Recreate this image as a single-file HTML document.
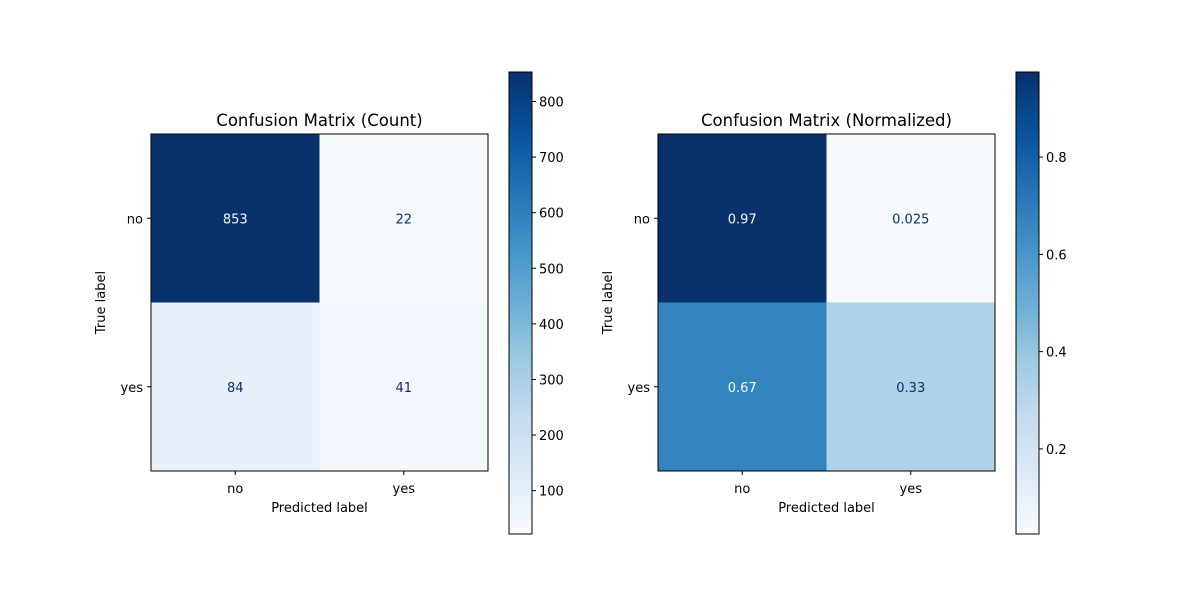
<!DOCTYPE html>
<html><head><meta charset="utf-8"><style>
body{margin:0;background:#fff;}
svg{font-family:"DejaVu Sans","Liberation Sans",sans-serif;}
</style></head><body>
<svg id="chart" width="1200" height="600" xmlns="http://www.w3.org/2000/svg">
<rect width="1200" height="600" fill="#fff"/>
</svg>
<script>
const classLabels = ["no","yes"];
const countValues = [[853,22],[84,41]];
const normValues = [[0.9749,0.0251],[0.672,0.328]];
const normText = [["0.97","0.025"],["0.67","0.33"]];
const countTicks = [100,200,300,400,500,600,700,800];
const normTicks = [0.2,0.4,0.6,0.8];
const titles = ["Confusion Matrix (Count)","Confusion Matrix (Normalized)"];

const blues = ["#f7fbff","#deebf7","#c6dbef","#9ecae1","#6baed6","#4292c6","#2171b5","#08519c","#08306b"];
function hex(c){return [1,3,5].map(i=>parseInt(c.substr(i,2),16));}
function cmap(t){t=Math.max(0,Math.min(1,t));const p=t*8,i=Math.min(7,Math.floor(p)),f=p-i;
 const a=hex(blues[i]),b=hex(blues[i+1]);return "rgb("+a.map((v,k)=>Math.round(v+(b[k]-v)*f)).join(",")+")";}
const NS="http://www.w3.org/2000/svg";
const svg=document.getElementById("chart");
function el(tag,attrs,parent){const e=document.createElementNS(NS,tag);for(const k in attrs)e.setAttribute(k,attrs[k]);(parent||svg).appendChild(e);return e;}
function txt(s,attrs){const e=el("text",Object.assign({"font-size":"13",fill:"#000"},attrs));e.textContent=s;return e;}

const defs=el("defs",{});
const grad=el("linearGradient",{id:"bl",x1:"0",y1:"1",x2:"0",y2:"0"},defs);
blues.forEach((c,i)=>el("stop",{offset:(i/8),"stop-color":c},grad));

function panel(x0,values,labels,ticks,tickFmt,title){
 const y0=134,S=337,cell=S/2;
 const flat=values.flat(),mn=Math.min(...flat),mx=Math.max(...flat);
 const norm=v=>(v-mn)/(mx-mn);
 const g=el("g",{});
 
 
 for(let r=0;r<2;r++)for(let c=0;c<2;c++){
  const v=values[r][c];
  const rc=el("rect",{x:x0+c*cell,y:y0+r*cell,width:cell,height:cell,fill:cmap(norm(v))},g);
  
  
  const t=txt(labels[r][c],{x:x0+c*cell+cell/2,y:y0+r*cell+cell/2+5,"text-anchor":"middle",fill:norm(v)>0.5?"#f7fbff":"#08306b"});
  
  
 }
 el("rect",{x:x0,y:y0,width:S,height:S,fill:"none",stroke:"#000","stroke-width":1});
 classLabels.forEach((l,i)=>{
  const cx=x0+i*cell+cell/2, cy=y0+i*cell+cell/2;
  el("line",{x1:cx,x2:cx,y1:y0+S,y2:y0+S+4,stroke:"#000"});
  const a=txt(l,{x:cx,y:y0+S+22,"text-anchor":"middle"});
  
  
  el("line",{x1:x0-4,x2:x0,y1:cy,y2:cy,stroke:"#000"});
  const b=txt(l,{x:x0-8,y:cy+5,"text-anchor":"end"});
  
  
 });
 const tt=txt(title,{x:x0+S/2,y:y0-8,"text-anchor":"middle","font-size":"16.5"});
 
 
 const xl=txt("Predicted label",{x:x0+S/2,y:y0+S+41,"text-anchor":"middle"});
 
 
 const yl=txt("True label",{x:0,y:0,"text-anchor":"middle",transform:"translate("+(x0-46)+","+(y0+S/2)+") rotate(-90)"});
 
 
 const cx0=x0+358,cy0=72,cw=23,ch=462;
 const cb=el("rect",{x:cx0,y:cy0,width:cw,height:ch,fill:"url(#bl)",stroke:"#000","stroke-width":1});
 
 
 ticks.forEach(t=>{
  const y=cy0+ch-norm(t)*ch;
  el("line",{x1:cx0+cw,x2:cx0+cw+4,y1:y,y2:y,stroke:"#000"});
  const l=txt(tickFmt(t),{x:cx0+cw+7,y:y+5});
  
  
 });
}
panel(151,countValues,countValues.map(r=>r.map(String)),countTicks,String,titles[0]);
panel(658,normValues,normText,normTicks,t=>t.toFixed(1),titles[1]);
</script>
</body></html>
